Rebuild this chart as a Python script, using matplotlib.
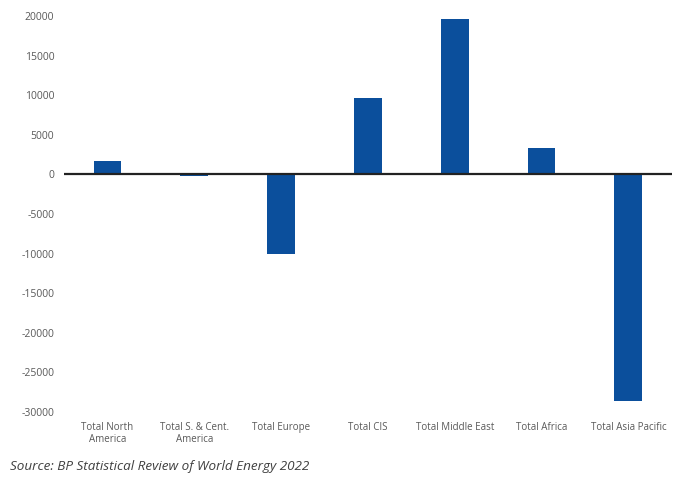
import numpy as np
import matplotlib
matplotlib.use("Agg")
import matplotlib.pyplot as plt

# net balance by region
regions = ["Total North\nAmerica", "Total S. & Cent.\nAmerica", "Total Europe",
           "Total CIS", "Total Middle East", "Total Africa", "Total Asia Pacific"]
balance = [1650, -250, -10100, 9600, 19600, 3300, -28600]
yticks = [20000, 15000, 10000, 5000, 0, -5000, -10000, -15000, -20000, -25000, -30000]

plt.rcParams['font.family'] = ['Open Sans', 'DejaVu Sans']

fig = plt.figure(figsize=(6.76, 4.79), dpi=100)
ax = fig.add_axes([0.0947, 0.140, 0.899, 0.8266])

x = np.arange(len(regions))
ax.bar(x, balance, 0.32, color='#0b4f9c', zorder=2)
ax.axhline(0, color='#222222', lw=1.6, zorder=3)

ax.set_xlim(-0.5, len(regions) - 0.5)
ax.set_ylim(-30000, 20000)
ax.set_yticks(yticks)
ax.set_yticklabels([str(v) for v in yticks])
ax.set_xticks(x)
ax.set_xticklabels(regions)

for s in ax.spines.values():
    s.set_visible(False)
ax.tick_params(length=0, colors='#595959')
ax.tick_params(axis='y', pad=7, labelsize=7.5)
ax.tick_params(axis='x', pad=7, labelsize=7)

fig.text(0.015, 0.018, "Source: BP Statistical Review of World Energy 2022",
         style='italic', fontsize=9.7, color='#404040')

fig.savefig("out.png", dpi=100)
